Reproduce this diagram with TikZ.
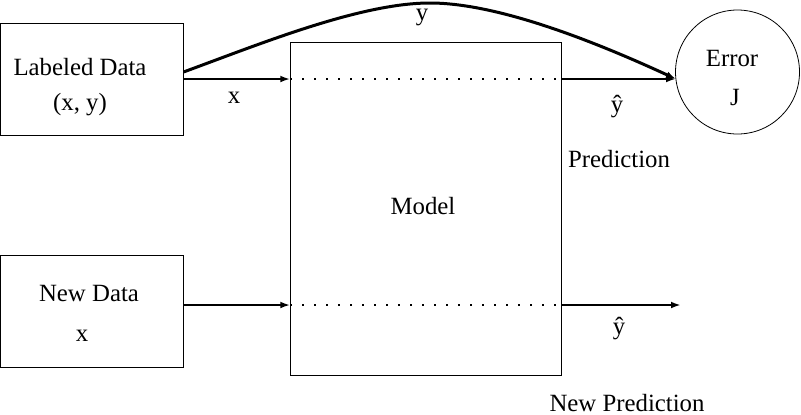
\documentclass[tikz,border=0pt]{standalone}
\usepackage{fontspec}
\setmainfont{Liberation Serif}
\usetikzlibrary{arrows.meta,calc}
\begin{document}
\begin{tikzpicture}[x=0.5pt,y=-0.5pt,
  font=\fontsize{12.4}{14}\selectfont,
  blk/.style={draw,line width=0.5pt,inner sep=0pt,outer sep=0pt},
  lbl/.style={inner sep=0pt,anchor=center},
  flow/.style={line width=1.2pt,-{Latex[length=5pt,width=3.4pt]}},
  inside/.style={line width=1pt,dash pattern=on 1pt off 5pt}]
\useasboundingbox (0,0) rectangle (801,414);
% blocks
\node[blk,minimum width=91.5pt,minimum height=56pt] (LD) at (91.8,79) {};
\node[blk,minimum width=91.5pt,minimum height=56pt] (ND) at (91.8,311) {};
\node[blk,minimum width=135.5pt,minimum height=166.5pt] (M) at (425.8,208.5) {};
\node[draw,circle,line width=0.4pt,minimum size=62pt,inner sep=0pt,outer sep=0pt] (E) at (737.5,72) {};
% texts
\node[lbl] (tLD) at (80,67) {Labeled Data};
\node[lbl] (tLDxy) at (80,105) {(x, y)};
\node[lbl] (tND) at (89,293) {New Data};
\node[lbl] (tNDx) at (82,336) {x};
\node[lbl] (tM) at (423,206) {Model};
\node[lbl] (tE) at (732,58) {Error};
\node[lbl] (tJ) at (735,97) {J};
\node[lbl] (ty) at (422,17) {y};
\node[lbl] (tx) at (234,98) {x};
\node[lbl] (tyh1) at (617,107) {ŷ};
\node[lbl] (tP) at (619,159) {Prediction};
\node[lbl] (tyh2) at (619,329) {ŷ};
\node[lbl] (tNP) at (627,403) {New Prediction};
% coordinates
\coordinate (a1) at (LD.east);
\coordinate (a2) at (LD.east -| M.west);
\coordinate (a3) at (LD.east -| M.east);
\coordinate (a4) at (676,79);
\coordinate (b1) at (183.5,305);
\coordinate (b2) at (b1 -| M.west);
\coordinate (b3) at (b1 -| M.east);
\coordinate (b4) at (681,305);
\coordinate (c1) at (183.5,72);
\coordinate (cp) at (430,3);
% connectors
\draw[flow] (a1) -- (a2);
\draw[inside] (a2) -- (a3);
\draw[flow] (a3) -- (a4);
\draw[flow] (b1) -- (b2);
\draw[inside] (b2) -- (b3);
\draw[flow] (b3) -- (b4);
\draw[flow,line width=1.5pt] (c1) .. controls (260,44) and (360,3) .. (cp) .. controls (500,3) and (600,44) .. (a4);
\end{tikzpicture}
\end{document}
